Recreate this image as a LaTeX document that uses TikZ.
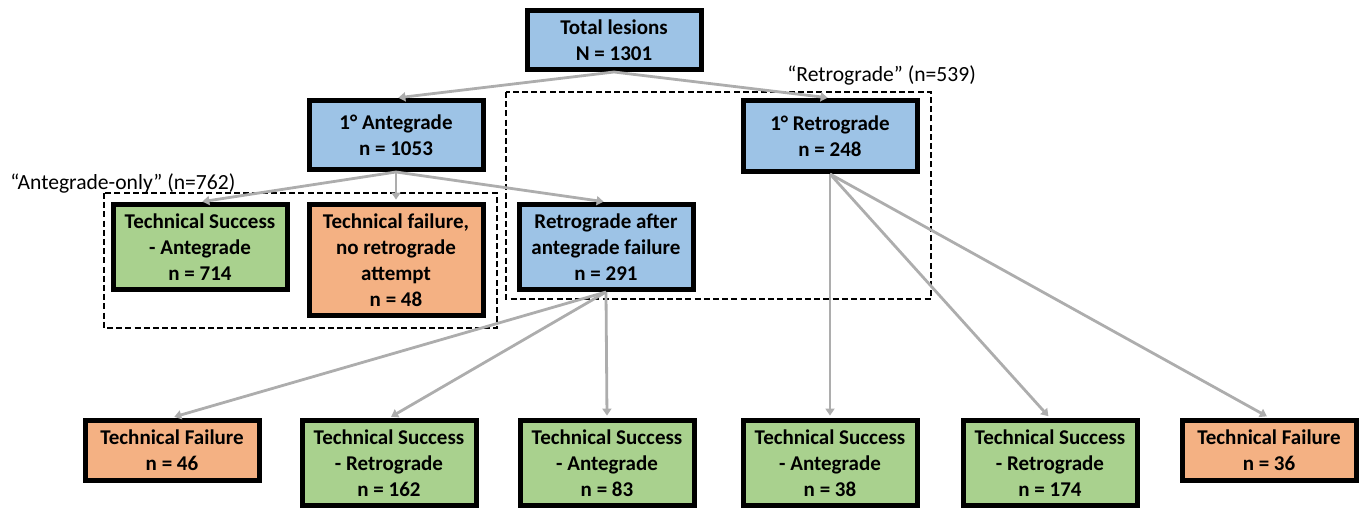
\documentclass[tikz,border=0pt]{standalone}
\usepackage{fontspec}
\setmainfont{Carlito}
\usepackage{tikz}
\usetikzlibrary{arrows.meta}
\definecolor{boxblue}{HTML}{9DC3E6}
\definecolor{boxgreen}{HTML}{A9D18E}
\definecolor{boxorange}{HTML}{F4B183}
\colorlet{arrowgray}{black!32}

\begin{document}
\begin{tikzpicture}[x=0.5pt, y=-0.5pt,
		box/.style={draw=black, line width=2.5pt, inner sep=0pt, align=center,
			minimum width=87pt, font=\fontsize{10.5}{13}\selectfont\bfseries},
		bluebox/.style={box, fill=boxblue},
		greenbox/.style={box, fill=boxgreen},
		orangebox/.style={box, fill=boxorange},
		flow/.style={draw=arrowgray, line width=1.4pt, shorten >=1.2pt,
			-{Triangle[length=3.5pt, width=4.5pt]}},
		group/.style={draw=black, line width=1pt, dash pattern=on 3pt off 1.6pt},
		grouplabel/.style={anchor=west, inner sep=0pt, font=\fontsize{10.8}{13}\selectfont}]
			\useasboundingbox (0,0) rectangle (1362,508);
			\draw[group] (104,193) rectangle (497,328);
			\draw[group] (506,92) rectangle (931,299);
			\node[grouplabel] (antelabel) at (10,183) {“Antegrade-only” (n=762)};
			\node[grouplabel] (retrolabel) at (787,75) {“Retrograde” (n=539)};
			\node[bluebox, minimum height=29.5pt] (total) at (614,40) {Total lesions\\N = 1301};
			\node[bluebox, minimum height=34.5pt] (ante) at (396,135) {1° Antegrade\\n = 1053};
			\node[bluebox, minimum height=35.5pt] (retro) at (830,136) {1° Retrograde\\n = 248};
			\node[greenbox, minimum height=42.5pt] (anteok) at (200,247) {Technical Success\\- Antegrade\\n = 714};
			\node[orangebox, minimum height=55.5pt] (antefail) at (396,260) {Technical failure,\\no retrograde\\attempt\\n = 48};
			\node[bluebox, minimum height=42.5pt] (rescue) at (606,247) {Retrograde after\\antegrade failure\\n = 291};
			\node[orangebox, minimum height=30pt] (rescuefail) at (172,450) {Technical Failure\\n = 46};
			\node[greenbox, minimum height=42.5pt] (rescueretro) at (389,463) {Technical Success\\- Retrograde\\n = 162};
			\node[greenbox, minimum height=42.5pt] (rescueante) at (607,463) {Technical Success\\- Antegrade\\n = 83};
			\node[greenbox, minimum height=42.5pt] (retroante) at (830,463) {Technical Success\\- Antegrade\\n = 38};
			\node[greenbox, minimum height=42.5pt] (retroretro) at (1050,463) {Technical Success\\- Retrograde\\n = 174};
			\node[orangebox, minimum height=30pt] (retrofail) at (1269,450) {Technical Failure\\n = 36};
			\draw[flow] (total.south) -- (ante.north);
			\draw[flow] (total.south) -- (retro.north);
			\draw[flow] (ante.south) -- (anteok.north);
			\draw[flow] (ante.south) -- (antefail.north);
			\draw[flow] (ante.south) -- (rescue.north);
			\draw[flow] (rescue.south) -- (rescuefail.north);
			\draw[flow] (rescue.south) -- (rescueretro.north);
			\draw[flow] (rescue.south) -- (rescueante.north);
			\draw[flow] (retro.south) -- (retroante.north);
			\draw[flow] (retro.south) -- (retroretro.north);
			\draw[flow] (retro.south) -- (retrofail.north);
		\end{tikzpicture}
\end{document}
